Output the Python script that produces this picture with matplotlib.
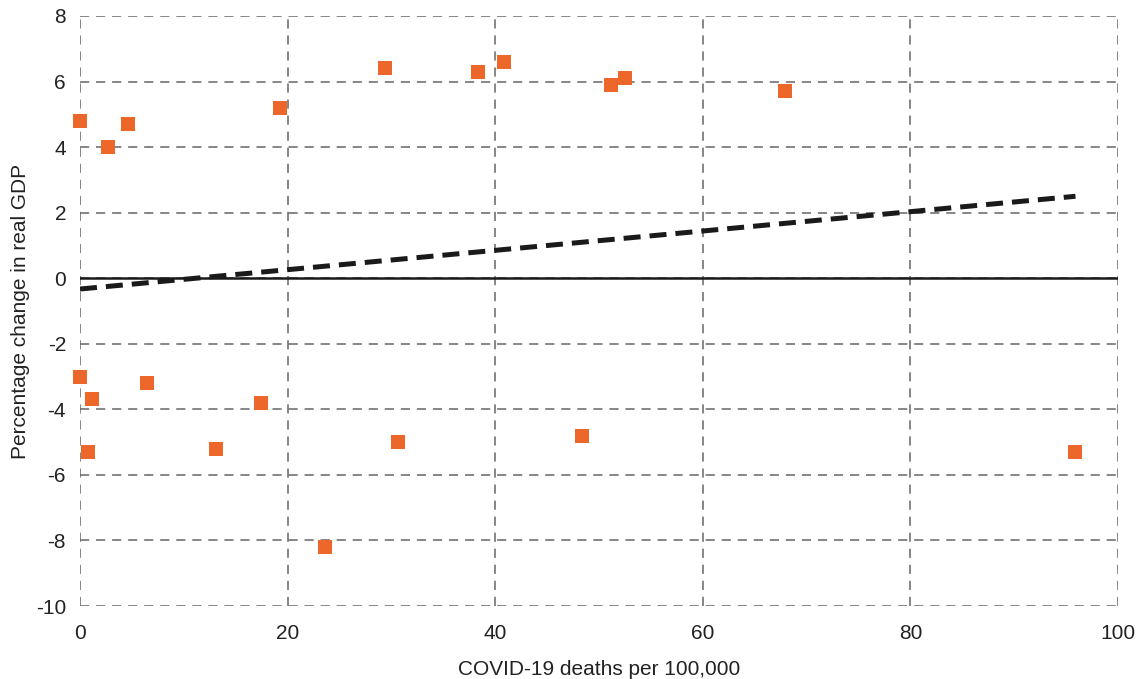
import numpy as np
import matplotlib.pyplot as plt

plt.rcParams['font.family'] = ['Liberation Sans', 'DejaVu Sans']
plt.rcParams['axes.unicode_minus'] = False

# COVID-19 deaths per 100,000 vs percentage change in real GDP
deaths = [0.0, 2.7, 4.6, 19.3, 29.4, 38.3, 40.8, 51.2, 52.5, 67.9,
          0.0, 1.2, 0.8, 6.5, 13.1, 17.4, 23.6, 30.6, 48.4, 95.9]
gdp_change = [4.8, 4.0, 4.7, 5.2, 6.4, 6.3, 6.6, 5.9, 6.1, 5.7,
              -3.0, -3.7, -5.3, -3.2, -5.2, -3.8, -8.2, -5.0, -4.8, -5.3]

x_ticks = [0, 20, 40, 60, 80, 100]
y_ticks = [-10, -8, -6, -4, -2, 0, 2, 4, 6, 8]

# linear trend
trend_intercept = -0.33
trend_slope = 0.0295
trend_x = np.array([0, max(deaths)])
trend_y = trend_slope * trend_x + trend_intercept

fig = plt.figure(figsize=(11.46, 6.79), dpi=100)
ax = fig.add_axes([0.0698, 0.1075, 0.9058, 0.869])

ax.grid(True, color='#666666', linestyle=(0, (6, 4.5)), linewidth=1.1)
ax.set_axisbelow(True)
for s in ax.spines.values():
    s.set_visible(False)

ax.axhline(0, color='#1a1a1a', linewidth=1.8, zorder=2)
ax.plot(trend_x, trend_y, color='#1a1a1a', linewidth=3.6, linestyle=(0, (3.4, 1.8)), zorder=3)
ax.scatter(deaths, gdp_change, marker='s', s=95, color='#ee672a', zorder=4,
           linewidths=0, clip_on=False)

ax.set_xlim(0, 100)
ax.set_ylim(-10, 8)
ax.set_xticks(x_ticks)
ax.set_yticks(y_ticks)
ax.tick_params(axis='both', length=0, labelsize=15, colors='#222222')
ax.tick_params(axis='x', pad=13)
ax.tick_params(axis='y', pad=10)

ax.set_xlabel('COVID-19 deaths per 100,000', fontsize=15, color='#222222', labelpad=12)
ax.set_ylabel('Percentage change in real GDP', fontsize=15, color='#222222', labelpad=4)

fig.savefig('out.png', dpi=100)
